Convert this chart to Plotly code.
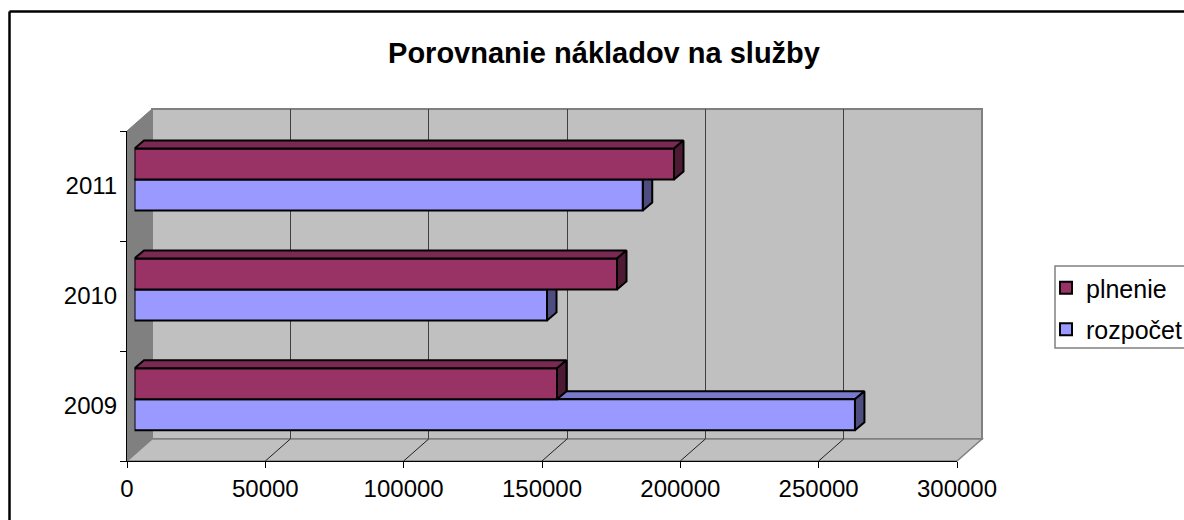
import plotly.graph_objects as go

# --- data -------------------------------------------------------------
title = "Porovnanie nákladov na služby"
categories = ["2009", "2010", "2011"]
plnenie = [152700, 174400, 195000]
rozpocet = [260400, 149100, 183700]
value_ticks = [0, 50000, 100000, 150000, 200000, 250000, 300000]

# --- page and 3D frame geometry (pixels) -------------------------------
W, H = 1184, 520
FRONT = dict(l=127, r=957, t=131, b=461)
BACK = dict(l=152, r=982, t=109, b=439)
BARS = dict(l=134.5, r=964.5, t=124.6, b=454.2)
FONT = "Liberation Sans, Arial, sans-serif"
INK = "#000000"
EDGE = "#808080"
WALL = "#C0C0C0"
SIDE_WALL = "#808080"
BAR_LINE = 2


def fx(p):
    return p / W


def fy(p):
    return 1 - p / H


def xdom(box):
    return [fx(box["l"]), fx(box["r"])]


def ydom(box):
    return [fy(box["b"]), fy(box["t"])]


def poly(points):
    return "M " + " L ".join(f"{fx(x):.5f} {fy(y):.5f}" for x, y in points) + " Z"


x_max = value_ticks[-1]
y_range = [-0.5, len(categories) - 0.5]
positions = list(range(len(categories)))
px_per_x = (BARS["r"] - BARS["l"]) / x_max
px_per_y = (BARS["b"] - BARS["t"]) / len(categories)
half_h = 31 / px_per_y
dx = 9.5 / px_per_x
dy = 8 / px_per_y

fig = go.Figure()

# empty traces keep the wall and front axes alive
fig.add_trace(go.Scatter(x=[None], y=[None], xaxis="x", yaxis="y", showlegend=False, hoverinfo="skip"))
fig.add_trace(go.Scatter(x=[None], y=[None], xaxis="x2", yaxis="y2", showlegend=False, hoverinfo="skip"))


def faces(values, centers, color, xa, ya):
    top_x, top_y, side_x, side_y = [], [], [], []
    for v, c in zip(values, centers):
        hi, lo = c + half_h, c
        top_x += [0, v, v + dx, dx, 0, None]
        top_y += [hi, hi, hi + dy, hi + dy, hi, None]
        side_x += [v, v + dx, v + dx, v, v, None]
        side_y += [lo, lo + dy, hi + dy, hi, lo, None]
    for xs, ys, c in ((top_x, top_y, color[0]), (side_x, side_y, color[1])):
        fig.add_trace(go.Scatter(
            x=xs, y=ys, xaxis=xa, yaxis=ya, mode="lines", fill="toself", fillcolor=c,
            line=dict(color=INK, width=BAR_LINE), showlegend=False, hoverinfo="skip", cliponaxis=False,
        ))


roz_base = [p - half_h for p in positions]
pln_base = positions

# rozpočet side and top faces sit behind everything on the bars layer
faces(rozpocet, roz_base, ("#7A7ACC", "#4D4D80"), "x3", "y3")

for rank, name, vals, base, color in (
    (2, "rozpočet", rozpocet, roz_base, "#9999FF"),
    (1, "plnenie", plnenie, pln_base, "#993366"),
):
    fig.add_trace(go.Bar(
        x=vals, y=[b + half_h / 2 for b in base], width=half_h, orientation="h", name=name,
        xaxis="x4", yaxis="y4", marker=dict(color=color, line=dict(color=INK, width=BAR_LINE)),
        legendgroup=name, legendrank=rank,
    ))

faces(plnenie, pln_base, ("#7A2952", "#4D1A33"), "x4", "y4")

# --- walls, floor and outer frame --------------------------------------
shapes = [
    dict(type="path", xref="paper", yref="paper", layer="below", fillcolor=WALL,
         line=dict(color=EDGE, width=2),
         path=poly([(BACK["l"], BACK["b"]), (BACK["l"], BACK["t"]), (BACK["r"], BACK["t"]), (BACK["r"], BACK["b"])])),
    dict(type="path", xref="paper", yref="paper", layer="below", fillcolor=SIDE_WALL,
         line=dict(color=EDGE, width=1),
         path=poly([(FRONT["l"], FRONT["b"]), (BACK["l"], BACK["b"]), (BACK["l"], BACK["t"]), (FRONT["l"], FRONT["t"])])),
    dict(type="path", xref="paper", yref="paper", layer="below", fillcolor=WALL,
         line=dict(color=EDGE, width=1.5),
         path=poly([(FRONT["l"], FRONT["b"]), (FRONT["r"], FRONT["b"]), (BACK["r"], BACK["b"]), (BACK["l"], BACK["b"])])),
    dict(type="line", xref="paper", yref="paper", x0=fx(9.5), x1=1, y0=fy(11.5), y1=fy(11.5),
         line=dict(color=INK, width=2.5)),
    dict(type="line", xref="paper", yref="paper", x0=fx(9.5), x1=fx(9.5), y0=fy(11.5), y1=0,
         line=dict(color=INK, width=2.5)),
    dict(type="rect", xref="paper", yref="paper", x0=fx(1055), x1=fx(1190), y0=fy(348), y1=fy(266),
         fillcolor="white", line=dict(color=EDGE, width=1.5), layer="below"),
]
span = FRONT["r"] - FRONT["l"]
for t in value_ticks[1:-1]:
    fp = FRONT["l"] + span * t / x_max
    bp = BACK["l"] + span * t / x_max
    shapes.append(dict(type="line", xref="paper", yref="paper", layer="below",
                       x0=fx(fp), y0=fy(FRONT["b"]), x1=fx(bp), y1=fy(BACK["b"]),
                       line=dict(color="#202020", width=1)))

fig.update_layout(
    width=W, height=H, autosize=False,
    margin=dict(l=0, r=0, t=0, b=0, pad=0, autoexpand=False),
    paper_bgcolor="white", plot_bgcolor="rgba(0,0,0,0)",
    barmode="overlay",
    font=dict(family=FONT, size=24, color=INK),
    title=dict(text=f"<b>{title}</b>", x=604 / W, xanchor="center", y=fy(53), yanchor="middle",
               xref="paper", yref="paper", font=dict(family=FONT, size=29, color=INK)),
    shapes=shapes,
    legend=dict(x=fx(1046), xanchor="left", y=fy(265), yanchor="top",
                traceorder="grouped", tracegroupgap=6,
                bgcolor="rgba(0,0,0,0)", borderwidth=0, font=dict(family=FONT, size=25, color=INK)),
    hovermode=False,
    # back wall grid
    xaxis=dict(domain=xdom(BACK), range=[0, x_max], tickvals=value_ticks[1:-1], showticklabels=False, ticks="",
               showgrid=True, gridcolor="#404040", gridwidth=1, zeroline=False, showline=False, anchor="y"),
    yaxis=dict(domain=ydom(BACK), range=y_range, visible=False, anchor="x"),
    # front axes
    xaxis2=dict(domain=xdom(FRONT), range=[0, x_max], tickvals=value_ticks, ticktext=[str(t) for t in value_ticks],
                ticks="outside", ticklen=6, tickcolor=INK, tickwidth=1, showgrid=False, zeroline=False,
                showline=True, linecolor=INK, linewidth=1, anchor="y2",
                tickfont=dict(family=FONT, size=24, color=INK)),
    yaxis2=dict(domain=ydom(FRONT), range=y_range, tickvals=positions, ticktext=categories, ticks="",
                ticklen=0, showgrid=False, zeroline=False, showline=True, linecolor=INK, linewidth=1,
                anchor="x2", ticklabelstandoff=4, tickfont=dict(family=FONT, size=24, color=INK),
                minor=dict(tickvals=[p - 0.5 for p in positions] + [y_range[1]], ticks="outside", ticklen=6,
                           tickcolor=INK, tickwidth=1)),
    # bar planes
    xaxis3=dict(domain=xdom(BARS), range=[0, x_max], visible=False, anchor="y3"),
    yaxis3=dict(domain=ydom(BARS), range=y_range, visible=False, anchor="x3"),
    xaxis4=dict(domain=xdom(BARS), range=[0, x_max], visible=False, anchor="y4"),
    yaxis4=dict(domain=ydom(BARS), range=y_range, visible=False, anchor="x4"),
)

fig.write_html("out.html", config=dict(displayModeBar=False),
               post_script="document.body.style.margin='0';document.body.style.overflow='hidden';")
